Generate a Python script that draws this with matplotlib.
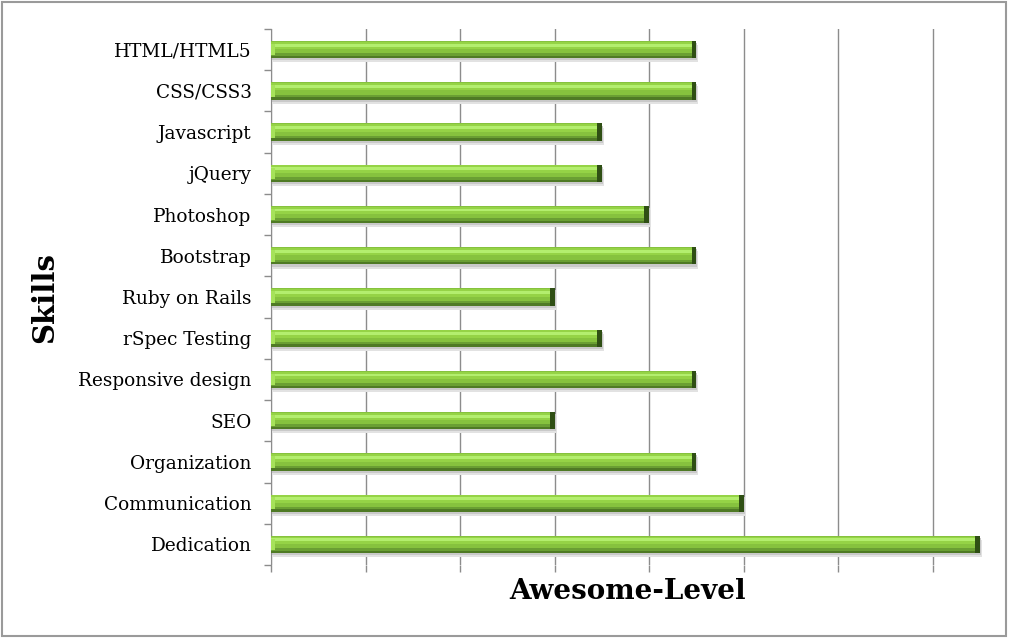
import matplotlib.pyplot as plt
from matplotlib.patches import Rectangle

skills = ["HTML/HTML5", "CSS/CSS3", "Javascript", "jQuery", "Photoshop",
          "Bootstrap", "Ruby on Rails", "rSpec Testing", "Responsive design",
          "SEO", "Organization", "Communication", "Dedication"]
levels = [4.5, 4.5, 3.5, 3.5, 4.0, 4.5, 3.0, 3.5, 4.5, 3.0, 4.5, 5.0, 7.5]
grid_ticks = [0, 1, 2, 3, 4, 5, 6, 7]

plt.rcParams['font.family'] = ['DejaVu Serif']

fig = plt.figure(figsize=(10.09, 6.38), dpi=100)
ax = fig.add_axes([0.2686, 0.1144, 0.7074, 0.8401])

ypos = list(range(len(skills)))
h = 0.42

# soft shadow under the bars
ax.barh([y + 0.10 for y in ypos], levels, height=h, left=0.02,
        color="#e2e2e2", zorder=2)
ax.barh([y + 0.05 for y in ypos], levels, height=h, left=0.01,
        color="#c9c9c9", zorder=2)
# bevelled bar built from stacked layers (y axis is inverted: minus = up)
ax.barh(ypos, levels, height=h, color="#4f7a25", zorder=3)
ax.barh([y - 0.03 for y in ypos], levels, height=h - 0.06, color="#6a9f33", zorder=4)
ax.barh([y - 0.06 for y in ypos], levels, height=0.30, color="#86c23e", zorder=5)
ax.barh([y - 0.10 for y in ypos], levels, height=0.18, color="#95d346", zorder=5)
ax.barh([y - 0.11 for y in ypos], levels, height=0.07, color="#b3ee6e", zorder=6)
# dark right cap and light left cap
ax.barh(ypos, [0.05] * len(levels), height=h,
        left=[v - 0.05 for v in levels], color="#2f4f14", zorder=7)
ax.barh(ypos, [0.04] * len(levels), height=h - 0.14, left=0.0,
        color="#a6e25a", zorder=7)

ax.set_xlim(0, 7.55)
ax.set_ylim(len(skills) - 0.5, -0.5)

ax.set_xticks(grid_ticks)
ax.set_xticklabels([])
ax.xaxis.grid(True, color="#8c8c8c", linewidth=1.0, zorder=0)
ax.set_axisbelow(True)
ax.tick_params(axis="x", direction="out", length=5, color="#8c8c8c", width=1)

ax.set_yticks(ypos)
ax.set_yticklabels(skills, fontsize=13.3)
ax.set_yticks([y - 0.5 for y in ypos] + [len(skills) - 0.5], minor=True)
ax.tick_params(axis="y", which="major", length=0, pad=14)
ax.tick_params(axis="y", which="minor", direction="out", length=5,
               color="#8c8c8c", width=1)

for side in ["top", "right", "bottom"]:
    ax.spines[side].set_visible(False)
ax.spines["left"].set_color("#8c8c8c")

ax.set_xlabel("Awesome-Level", fontsize=20, fontweight="bold", labelpad=1)
ax.set_ylabel("Skills", fontsize=21, fontweight="bold", labelpad=14)

fig.patches.append(Rectangle((0.002, 0.003), 0.995, 0.994, transform=fig.transFigure,
                             fill=False, edgecolor="#9a9a9a", linewidth=1.5))

fig.savefig("out.png", dpi=100)
